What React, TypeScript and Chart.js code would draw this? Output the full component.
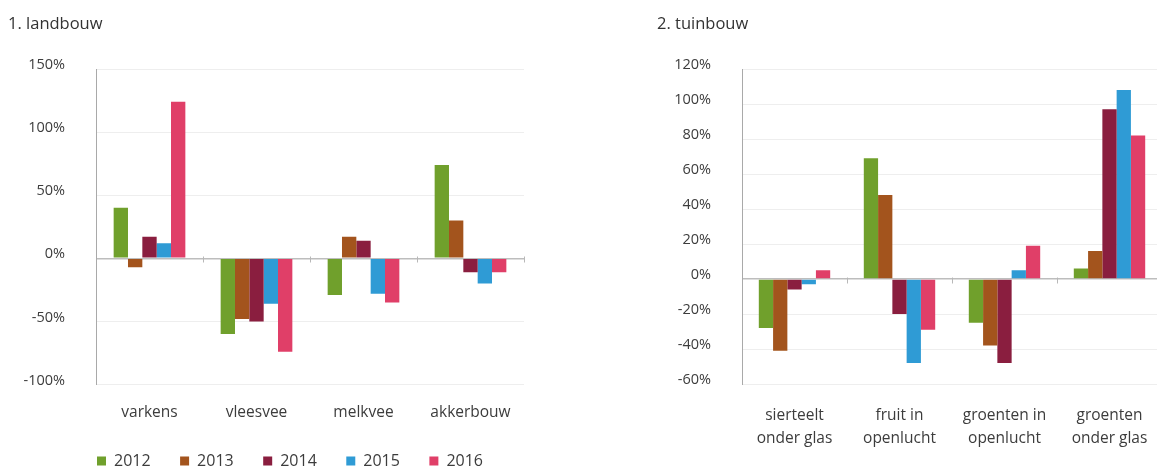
import { useEffect, useRef } from "react";
import { Chart, registerables } from "chart.js";

Chart.register(...registerables);

// Series years and their colours
const years = ["2012", "2013", "2014", "2015", "2016"];
const yearColors = ["#70a02c", "#a3541d", "#8a1e3f", "#2f9bd5", "#e03f68"];

// Panel 1: landbouw (percent change per sector)
const landbouwCategories = ["varkens", "vleesvee", "melkvee", "akkerbouw"];
const landbouw2012 = [40, -60, -29, 74];
const landbouw2013 = [-7, -48, 17, 30];
const landbouw2014 = [17, -50, 14, -11];
const landbouw2015 = [12, -36, -28, -20];
const landbouw2016 = [124, -74, -35, -11];
const landbouwTicks = { min: -100, max: 150, step: 50 };

// Panel 2: tuinbouw (percent change per sector)
const tuinbouwCategories = [
  ["sierteelt", "onder glas"],
  ["fruit in", "openlucht"],
  ["groenten in", "openlucht"],
  ["groenten", "onder glas"],
];
const tuinbouw2012 = [-28, 69, -25, 6];
const tuinbouw2013 = [-41, 48, -38, 16];
const tuinbouw2014 = [-6, -20, -48, 97];
const tuinbouw2015 = [-3, -48, 5, 108];
const tuinbouw2016 = [5, -29, 19, 82];
const tuinbouwTicks = { min: -60, max: 120, step: 20 };

const FONT = "'Open Sans', 'Noto Sans', sans-serif";
const TEXT = "#3c3c3c";

// Small marks on the zero line at the category boundaries
const zeroLineMarks = {
  id: "zeroLineMarks",
  afterDatasetsDraw(chart: any) {
    const x = chart.scales.x;
    const y = chart.scales.y;
    const zy = Math.round(y.getPixelForValue(0)) + 0.5;
    const n = x.ticks.length;
    const step = x.getPixelForValue(1) - x.getPixelForValue(0);
    const ctx = chart.ctx;
    ctx.save();
    ctx.strokeStyle = "#b8b8b8";
    ctx.lineWidth = 1;
    for (let i = 1; i <= n; i++) {
      const rx = Math.round(x.getPixelForValue(i - 1) + step / 2) + 0.5;
      ctx.beginPath();
      ctx.moveTo(rx, zy - 2);
      ctx.lineTo(rx, zy + 4);
      ctx.stroke();
    }
    ctx.restore();
  },
};

// Lines the legend up with the left edge of the plot area
const legendUnderPlot = {
  id: "legendUnderPlot",
  afterLayout(chart: any) {
    const lg = chart.legend;
    if (!lg || !lg.options.display) return;
    const shift = chart.chartArea.left - lg.options.labels.padding + 1 - lg.left;
    lg.left += shift;
    lg.right += shift;
  },
};

function makeDatasets(series: number[][], catPct: number) {
  return series.map((data, i) => ({
    label: years[i],
    data,
    backgroundColor: yearColors[i],
    borderWidth: 0,
    categoryPercentage: catPct,
    barPercentage: 1.0,
  }));
}

function yScale(t: { min: number; max: number; step: number }, axisWidth: number) {
  return {
    min: t.min,
    max: t.max,
    ticks: {
      stepSize: t.step,
      padding: 31,
      labelOffset: -4,
      color: TEXT,
      font: { family: FONT, size: 14.5 },
      callback: (v: any) => `${v}%`,
    },
    grid: {
      drawTicks: false,
      color: (c: any) => (c.tick && c.tick.value === 0 ? "#bdbdbd" : "#eeeeee"),
      lineWidth: (c: any) => (c.tick && c.tick.value === 0 ? 1.5 : 1),
    },
    border: { display: true, color: "#a9a9a9", width: 1 },
    afterFit: (s: any) => {
      s.width = axisWidth;
    },
  };
}

function xScale(height: number, padding: number, lineHeight: number) {
  return {
    grid: { display: false, drawTicks: false },
    border: { display: false },
    ticks: {
      padding,
      color: TEXT,
      maxRotation: 0,
      autoSkip: false,
      font: { family: FONT, size: 15.5, lineHeight },
    },
    afterFit: (s: any) => {
      s.height = height;
    },
  };
}

function LandbouwChart() {
  const ref = useRef<HTMLCanvasElement>(null);
  useEffect(() => {
    const chart = new Chart(ref.current!, {
      type: "bar",
      data: {
        labels: landbouwCategories,
        datasets: makeDatasets(
          [landbouw2012, landbouw2013, landbouw2014, landbouw2015, landbouw2016],
          0.67
        ),
      },
      options: {
        responsive: false,
        animation: false,
        layout: { padding: { left: 0, right: 56, top: 69, bottom: 0 } },
        scales: {
          x: xScale(39, 19, 1.2) as any,
          y: yScale(landbouwTicks, 96) as any,
        },
        plugins: {
          legend: {
            display: true,
            position: "bottom",
            align: "start",
            labels: {
              boxWidth: 9,
              boxHeight: 9,
              padding: 29.5,
              color: TEXT,
              font: { family: FONT, size: 16 },
            },
          },
          tooltip: { enabled: false },
        },
      },
      plugins: [zeroLineMarks, legendUnderPlot],
    });
    return () => chart.destroy();
  }, []);
  return <canvas ref={ref} width={580} height={479} />;
}

function TuinbouwChart() {
  const ref = useRef<HTMLCanvasElement>(null);
  useEffect(() => {
    const chart = new Chart(ref.current!, {
      type: "bar",
      data: {
        labels: tuinbouwCategories,
        datasets: makeDatasets(
          [tuinbouw2012, tuinbouw2013, tuinbouw2014, tuinbouw2015, tuinbouw2016],
          0.68
        ),
      },
      options: {
        responsive: false,
        animation: false,
        layout: { padding: { left: 0, right: 8, top: 69, bottom: 9 } },
        scales: {
          x: xScale(80, 20, 1.5) as any,
          y: yScale(tuinbouwTicks, 142) as any,
        },
        plugins: {
          legend: { display: false },
          tooltip: { enabled: false },
        },
      },
      plugins: [zeroLineMarks],
    });
    return () => chart.destroy();
  }, []);
  return <canvas ref={ref} width={570} height={473} />;
}

const titleStyle = {
  position: "absolute" as const,
  top: 11,
  fontFamily: FONT,
  fontSize: 16.5,
  color: "#333",
  whiteSpace: "nowrap" as const,
};

export default function App() {
  return (
    <div
      style={{
        position: "fixed",
        left: 0,
        top: 0,
        width: 1157,
        height: 473,
        overflow: "hidden",
        background: "#fff",
      }}
    >
      <div style={{ position: "absolute", left: 0, top: 0 }}>
        <LandbouwChart />
      </div>
      <div style={{ position: "absolute", left: 600, top: 0 }}>
        <TuinbouwChart />
      </div>
      <div style={{ ...titleStyle, left: 8 }}>1. landbouw</div>
      <div style={{ ...titleStyle, left: 657 }}>2. tuinbouw</div>
    </div>
  );
}
